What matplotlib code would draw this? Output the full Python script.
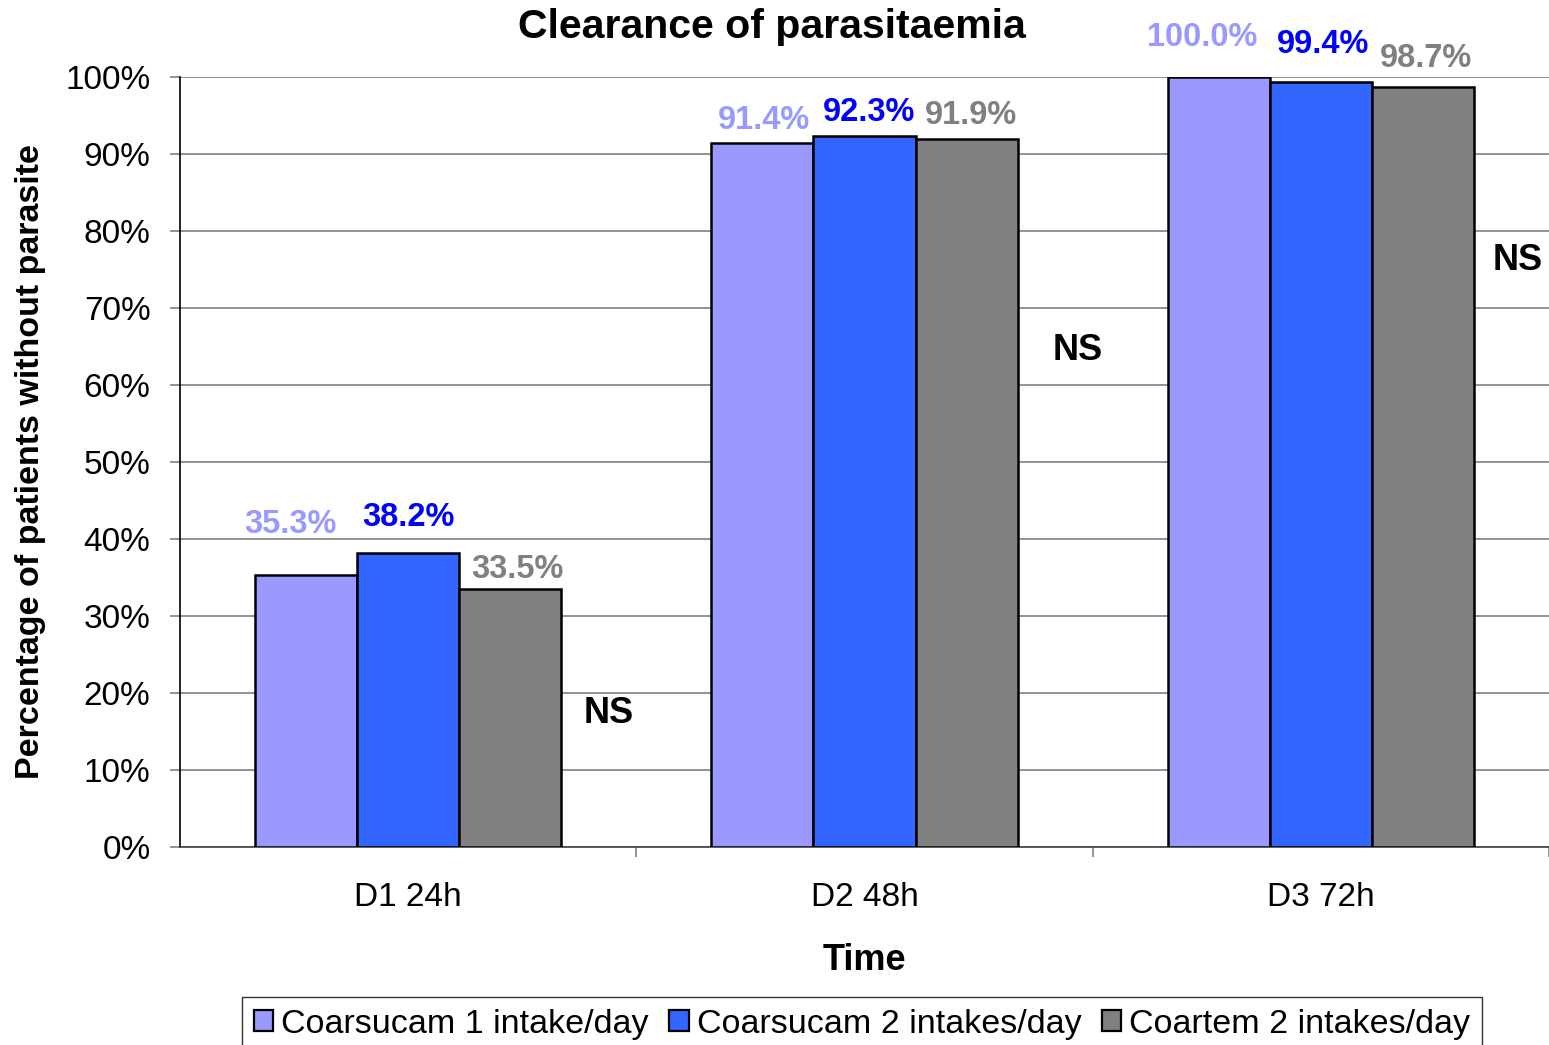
import matplotlib.pyplot as plt
import numpy as np

plt.rcParams['font.family'] = ['Liberation Sans', 'DejaVu Sans']

categories = ["D1 24h", "D2 48h", "D3 72h"]
series = ["Coarsucam 1 intake/day", "Coarsucam 2 intakes/day", "Coartem 2 intakes/day"]
coarsucam_1 = [35.3, 91.4, 100.0]
coarsucam_2 = [38.2, 92.3, 99.4]
coartem_2 = [33.5, 91.9, 98.7]
values = [coarsucam_1, coarsucam_2, coartem_2]
ns_labels = ["NS", "NS", "NS"]

bar_colors = ["#9999FF", "#3366FF", "#808080"]
label_colors = ["#9999FF", "#0000FF", "#808080"]

# label offsets in pixels (dx, dy)
label_off = [
    [(-16, 51), (0, 35), (7, 20)],
    [(2, 23), (5, 24), (4, 24)],
    [(-17, 39), (2, 37), (3, 29)],
]
ns_pos = [(0.44, 17.4), (1.467, 64.5), (2.432, 76.2)]

fig = plt.figure(figsize=(15.49, 10.45), dpi=100)
ax = fig.add_axes([180 / 1549, 198 / 1045, 1 - 180 / 1549, 770 / 1045])

x = np.arange(len(categories))
w = 0.2237
for i, (vals, col) in enumerate(zip(values, bar_colors)):
    pos = x + (i - 1) * w
    ax.bar(pos, vals, w, color=col, edgecolor='black', linewidth=1.8,
           label=series[i], zorder=3)
    for j, v in enumerate(vals):
        dx, dy = label_off[j][i]
        ax.annotate(f"{v:.1f}%", (pos[j], v), xytext=(dx * 0.72, dy * 0.72),
                    textcoords='offset points', ha='center', va='center',
                    fontsize=23.5, fontweight='bold', color=label_colors[i],
                    annotation_clip=False)

for (nx, ny), t in zip(ns_pos, ns_labels):
    ax.text(nx, ny, t, ha='center', va='center', fontsize=26, fontweight='bold')

ax.set_xlim(-0.5, 2.5)
ax.set_ylim(0, 100)
ax.set_yticks(np.arange(0, 101, 10))
ax.set_yticklabels([f"{t}%" for t in range(0, 101, 10)], fontsize=24)
ax.yaxis.grid(True, color='#808080', linewidth=1.2, zorder=0)
ax.set_axisbelow(True)

ax.set_xticks(x)
ax.set_xticklabels(categories, fontsize=24)
ax.tick_params(axis='x', length=0, pad=25)
ax.set_xticks([0.5, 1.5, 2.5], minor=True)
ax.tick_params(axis='x', which='minor', length=7.2, color='#808080', width=1.2)
ax.tick_params(axis='y', length=7.2, color='#808080', width=1.2, pad=14)

ax.spines['right'].set_visible(False)
ax.spines['top'].set_visible(False)
ax.spines['left'].set_color('black')
ax.spines['left'].set_linewidth(1.2)
ax.spines['bottom'].set_color('#404040')
ax.spines['bottom'].set_linewidth(1.2)

ax.set_ylabel("Percentage of patients without parasite", fontsize=24.5,
              fontweight='bold', labelpad=14)
ax.set_xlabel("Time", fontsize=26, fontweight='bold', labelpad=22)

fig.text(772 / 1549, 1 - 27 / 1045, "Clearance of parasitaemia", ha='center',
         va='center', fontsize=29.5, fontweight='bold')

leg = fig.legend(loc='upper center', bbox_to_anchor=(862 / 1549, 48 / 1045),
                 ncol=3, fontsize=24.5, frameon=True, fancybox=False,
                 edgecolor='black', handlelength=0.58, handleheight=0.58,
                 handletextpad=0.23, columnspacing=0.6, borderpad=0.35,
                 borderaxespad=0)
leg.get_frame().set_linewidth(1.0)
for h in leg.legend_handles:
    h.set_linewidth(1.6)

fig.savefig("out.png", dpi=100)
